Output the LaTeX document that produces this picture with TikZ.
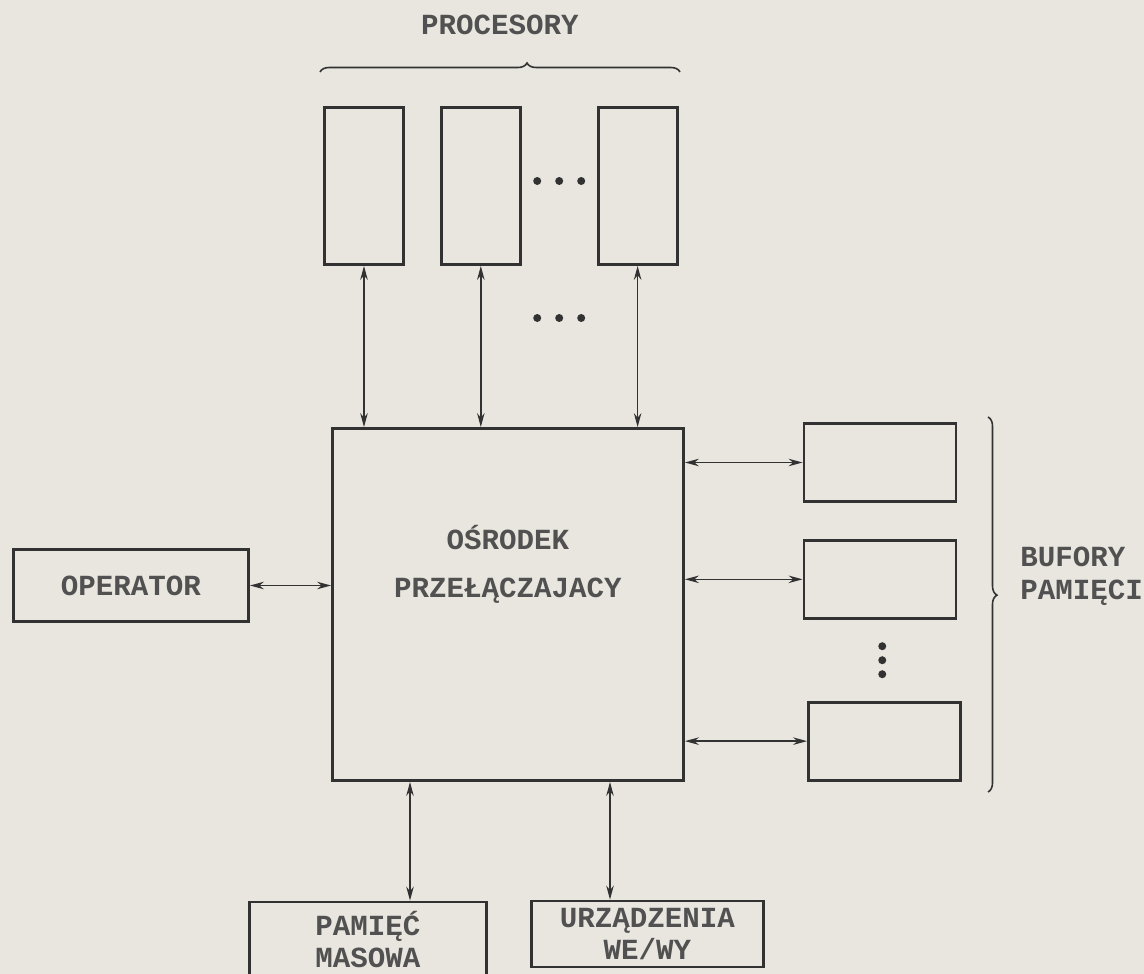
\documentclass[tikz,border=0pt]{standalone}
\usepackage{fontspec}
\setmonofont{Liberation Mono}
\usetikzlibrary{positioning,arrows.meta,calc,decorations.pathreplacing}
\definecolor{Paper}{RGB}{233,230,223}
\definecolor{Ink}{RGB}{50,50,50}

\begin{document}
\begin{tikzpicture}[node distance=.7cm,
 b/.style={draw=Ink,line width=1.6pt,inner sep=0pt,align=center,text=Ink!85,font=\ttfamily\bfseries\fontsize{16.6}{17.8}\selectfont},
 tx/.style={inner sep=0pt,align=center,text=Ink!85,font=\ttfamily\bfseries\fontsize{16.6}{17.8}\selectfont},
 a/.style={{Stealth[length=.28cm,width=.15cm]}-{Stealth[length=.28cm,width=.15cm]},line width=.8pt,Ink},
 br/.style={decorate,decoration={brace,amplitude=.18cm,aspect=#1},line width=.9pt,Ink}]
\useasboundingbox (0,0) rectangle (22.88,-19.48);
\fill[Paper] (0,0) rectangle (22.88,-19.48);
% switching centre
\node[b,minimum width=7.02cm,minimum height=7.04cm] (sw) at (10.16,-12.09) {};
\node[tx] (swt) at ([yshift=.81cm]sw.center) {OŚRODEK\\[9.4pt]PRZEŁĄCZAJACY};
% processors
\node[b,minimum width=1.58cm,minimum height=3.14cm] (p1) at (7.28,-3.72) {};
\node[b,minimum width=1.58cm,minimum height=3.14cm,right=of p1] (p2) {};
\node[b,minimum width=1.58cm,minimum height=3.14cm,right=1.5cm of p2] (p3) {};
\coordinate (pd1) at ($(p2.east)!.5!(p3.west)+(0,.1)$);
\coordinate (pd2) at ($(pd1)+(0,-2.74)$);
\foreach \i in {-1,0,1} {\fill[Ink] ($(pd1)+(\i*.44,0)$) circle (.08cm);\fill[Ink] ($(pd2)+(\i*.44,0)$) circle (.08cm);}
\draw[br=.575] (6.4,-1.44) -- (13.6,-1.44);
\node[tx] (pl) at (10,-.5) {PROCESORY};
\draw[a] (p1.south)--(p1.south |- sw.north);\draw[a] (p2.south)--(p2.south |- sw.north);\draw[a] (p3.south)--(p3.south |- sw.north);
% operator
\node[b,minimum width=4.7cm,minimum height=1.44cm] (op) at (2.62,-11.71) {OPERATOR};
\draw[a] (op.east)--(op.east -| sw.west);
% buffers
\node[b,minimum width=3.04cm,minimum height=1.56cm] (b1) at (17.6,-9.25) {};
\node[b,minimum width=3.04cm,minimum height=1.56cm,below=.72cm of b1] (b2) {};
\node[b,minimum width=3.04cm,minimum height=1.56cm,below=1.62cm of b2,xshift=.09cm] (b3) {};
\coordinate (bd) at ($(b2.south)!.5!(b3.north)$);
\foreach \i in {-1,0,1} \fill[Ink] ($(bd)+(0,\i*.28)$) circle (.08cm);
\draw[a] (b1.west -| sw.east)--(b1.west);\draw[a] (b2.west -| sw.east)--(b2.west);\draw[a] (b3.west -| sw.east)--(b3.west);
\coordinate (bt) at (19.76,-8.34);
\coordinate (bb) at (19.76,-15.84);
\draw[br=.475] (bt)--(bb);
\node[tx,anchor=west,align=left] (bl) at (20.4,-11.52) {BUFORY\\[1pt]PAMIĘCI};
% mass memory, i/o
\node[b,minimum width=4.74cm,minimum height=1.5cm] (mass) at (7.36,-18.79) {PAMIĘĆ\\[.5pt]MASOWA};
\node[b,minimum width=4.64cm,minimum height=1.32cm] (io) at (12.95,-18.68) {URZĄDZENIA\\[.5pt]WE/WY};
\draw[a] ([xshift=.84cm]mass.north)--([xshift=.84cm]mass.north |- sw.south);
\draw[a] ([xshift=-.75cm]io.north)--([xshift=-.75cm]io.north |- sw.south);
\end{tikzpicture}
\end{document}
